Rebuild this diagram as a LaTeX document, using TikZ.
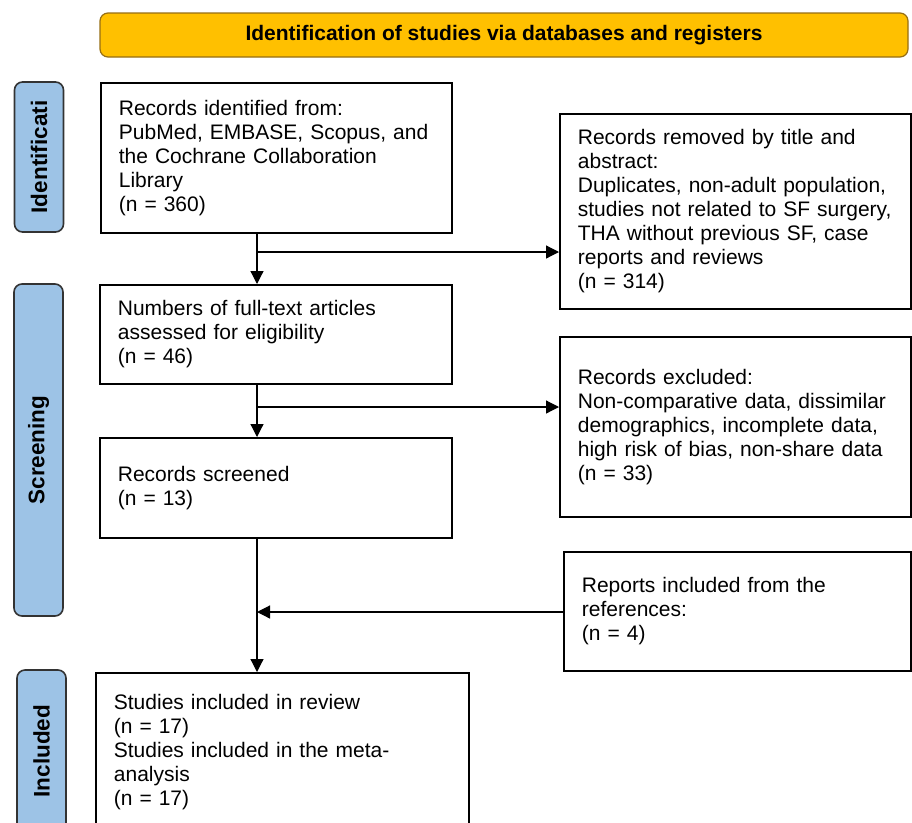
\documentclass[tikz,border=0pt]{standalone}
\usepackage{fontspec}
\setmainfont{Liberation Sans}
\usetikzlibrary{arrows.meta}
\definecolor{sideblue}{RGB}{157,195,230}
\definecolor{bannerfill}{RGB}{255,192,0}
\definecolor{bannerline}{RGB}{150,110,20}
\begin{document}
\begin{tikzpicture}[x=1pt,y=-1pt,
  box/.style={draw=black, line width=1.8pt, anchor=north west, align=left,
    inner xsep=18pt, inner ysep=0pt, font=\fontsize{21}{24}\selectfont},
  side/.style={draw=black!80, line width=1.6pt, fill=sideblue, rounded corners=8pt,
    rotate=90, minimum height=49pt, inner sep=0pt,
    font=\bfseries\fontsize{22.5}{24}\selectfont},
  banner/.style={draw=bannerline, line width=1.2pt, fill=bannerfill, rounded corners=8pt,
    minimum width=808pt, minimum height=44pt, inner sep=0pt,
    font=\bfseries\fontsize{21}{22}\selectfont},
  arr/.style={line width=1.2pt, -{Triangle[length=13pt,width=13pt]}}
]
\useasboundingbox (0,0) rectangle (912,822);

\node[banner] (ban) at (504,35) {Identification of studies via databases and registers};

\node[side, minimum width=150pt] (sid) at (39,157) {Identificati};
\node[side, minimum width=332pt] (scr) at (38.5,450) {Screening};
\node[side, minimum width=162pt] (sinc) at (41.5,751) {Included};

\node[box, minimum width=351pt, minimum height=150pt, text width=315pt] (b1) at (100,82)
  {Records identified from:\\PubMed, EMBASE, Scopus, and\\the Cochrane Collaboration\\Library\\(n = 360)};
\node[box, minimum width=351pt, minimum height=195pt, text width=315pt] (rem) at (559,113)
  {Records removed by title and\\abstract:\\Duplicates, non-adult population,\\studies not related to SF surgery,\\THA without previous SF, case\\reports and reviews\\(n = 314)};
\node[box, minimum width=352pt, minimum height=99pt, text width=316pt] (b2) at (99,284)
  {Numbers of full-text articles\\assessed for eligibility\\(n = 46)};
\node[box, minimum width=351pt, minimum height=180pt, text width=315pt] (exc) at (559,336)
  {Records excluded:\\Non-comparative data, dissimilar\\demographics, incomplete data,\\high risk of bias, non-share data\\(n = 33)};
\node[box, minimum width=352pt, minimum height=100pt, text width=316pt] (b3) at (99,437)
  {Records screened\\(n = 13)};
\node[box, minimum width=347pt, minimum height=119pt, text width=311pt] (rep) at (563,551)
  {Reports included from the\\references:\\(n = 4)};
\node[box, minimum width=373pt, minimum height=158pt, text width=337pt] (inc) at (95,672)
  {Studies included in review\\(n = 17)\\Studies included in the meta-\\analysis\\(n = 17)};

\coordinate (cx) at (257,0);
\coordinate (j1) at (257,252);
\coordinate (j2) at (257,407);
\coordinate (j3) at (257,612);

\draw[arr] (b1.south -| cx) -- (b2.north -| cx);
\draw[arr] (j1) -- (rem.west |- j1);
\draw[arr] (b2.south -| cx) -- (b3.north -| cx);
\draw[arr] (j2) -- (exc.west |- j2);
\draw[arr] (b3.south -| cx) -- (inc.north -| cx);
\draw[arr] (rep.west |- j3) -- (j3);
\end{tikzpicture}
\end{document}
